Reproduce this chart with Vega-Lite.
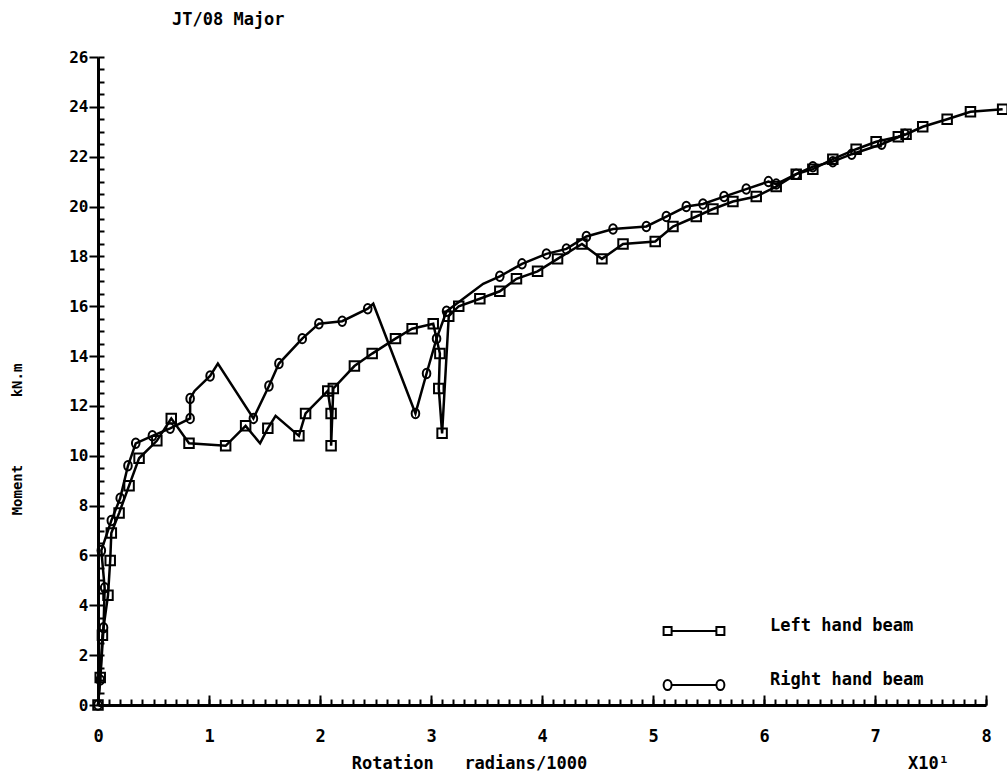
{
  "$schema": "https://vega.github.io/schema/vega-lite/v6.json",
  "autosize": "none",
  "width": 888,
  "height": 648,
  "padding": {"left": 98, "top": 57, "right": 21, "bottom": 73},
  "background": "white",
  "config": {"font": "DejaVu Sans Mono", "view": {"stroke": null}},
  "title": {"text": "JT/08 Major", "anchor": "start", "frame": "group", "dx": 74, "offset": 20, "fontSize": 17, "fontWeight": "bold", "font": "DejaVu Sans Mono", "color": "black"},
  "data": {"values": [
    {"b":"Left hand beam","i":1,"x":0,"y":0,"m":1},
    {"b":"Left hand beam","i":2,"x":0.02,"y":1.1,"m":1},
    {"b":"Left hand beam","i":3,"x":0.04,"y":2.8,"m":1},
    {"b":"Left hand beam","i":4,"x":0.09,"y":4.4,"m":1},
    {"b":"Left hand beam","i":5,"x":0.11,"y":5.8,"m":1},
    {"b":"Left hand beam","i":6,"x":0.12,"y":6.9,"m":1},
    {"b":"Left hand beam","i":7,"x":0.19,"y":7.7,"m":1},
    {"b":"Left hand beam","i":8,"x":0.28,"y":8.8,"m":1},
    {"b":"Left hand beam","i":9,"x":0.37,"y":9.9,"m":1},
    {"b":"Left hand beam","i":10,"x":0.53,"y":10.6,"m":1},
    {"b":"Left hand beam","i":11,"x":0.66,"y":11.5,"m":1},
    {"b":"Left hand beam","i":12,"x":0.82,"y":10.5,"m":1},
    {"b":"Left hand beam","i":13,"x":1.15,"y":10.4,"m":1},
    {"b":"Left hand beam","i":14,"x":1.33,"y":11.2,"m":1},
    {"b":"Left hand beam","i":15,"x":1.46,"y":10.5,"m":0},
    {"b":"Left hand beam","i":16,"x":1.53,"y":11.1,"m":1},
    {"b":"Left hand beam","i":17,"x":1.60,"y":11.6,"m":0},
    {"b":"Left hand beam","i":18,"x":1.81,"y":10.8,"m":1},
    {"b":"Left hand beam","i":19,"x":1.87,"y":11.7,"m":1},
    {"b":"Left hand beam","i":20,"x":2.07,"y":12.6,"m":1},
    {"b":"Left hand beam","i":21,"x":2.10,"y":11.7,"m":1},
    {"b":"Left hand beam","i":22,"x":2.10,"y":10.4,"m":1},
    {"b":"Left hand beam","i":23,"x":2.12,"y":12.7,"m":1},
    {"b":"Left hand beam","i":24,"x":2.31,"y":13.6,"m":1},
    {"b":"Left hand beam","i":25,"x":2.47,"y":14.1,"m":1},
    {"b":"Left hand beam","i":26,"x":2.68,"y":14.7,"m":1},
    {"b":"Left hand beam","i":27,"x":2.83,"y":15.1,"m":1},
    {"b":"Left hand beam","i":28,"x":3.02,"y":15.3,"m":1},
    {"b":"Left hand beam","i":29,"x":3.08,"y":14.1,"m":1},
    {"b":"Left hand beam","i":30,"x":3.07,"y":12.7,"m":1},
    {"b":"Left hand beam","i":31,"x":3.10,"y":10.9,"m":1},
    {"b":"Left hand beam","i":32,"x":3.16,"y":15.6,"m":1},
    {"b":"Left hand beam","i":33,"x":3.25,"y":16.0,"m":1},
    {"b":"Left hand beam","i":34,"x":3.44,"y":16.3,"m":1},
    {"b":"Left hand beam","i":35,"x":3.62,"y":16.6,"m":1},
    {"b":"Left hand beam","i":36,"x":3.77,"y":17.1,"m":1},
    {"b":"Left hand beam","i":37,"x":3.96,"y":17.4,"m":1},
    {"b":"Left hand beam","i":38,"x":4.14,"y":17.9,"m":1},
    {"b":"Left hand beam","i":39,"x":4.36,"y":18.5,"m":1},
    {"b":"Left hand beam","i":40,"x":4.54,"y":17.9,"m":1},
    {"b":"Left hand beam","i":41,"x":4.73,"y":18.5,"m":1},
    {"b":"Left hand beam","i":42,"x":5.02,"y":18.6,"m":1},
    {"b":"Left hand beam","i":43,"x":5.18,"y":19.2,"m":1},
    {"b":"Left hand beam","i":44,"x":5.39,"y":19.6,"m":1},
    {"b":"Left hand beam","i":45,"x":5.54,"y":19.9,"m":1},
    {"b":"Left hand beam","i":46,"x":5.72,"y":20.2,"m":1},
    {"b":"Left hand beam","i":47,"x":5.93,"y":20.4,"m":1},
    {"b":"Left hand beam","i":48,"x":6.11,"y":20.8,"m":1},
    {"b":"Left hand beam","i":49,"x":6.29,"y":21.3,"m":1},
    {"b":"Left hand beam","i":50,"x":6.44,"y":21.5,"m":1},
    {"b":"Left hand beam","i":51,"x":6.62,"y":21.9,"m":1},
    {"b":"Left hand beam","i":52,"x":6.83,"y":22.3,"m":1},
    {"b":"Left hand beam","i":53,"x":7.01,"y":22.6,"m":1},
    {"b":"Left hand beam","i":54,"x":7.21,"y":22.8,"m":1},
    {"b":"Left hand beam","i":55,"x":7.28,"y":22.9,"m":1},
    {"b":"Left hand beam","i":56,"x":7.43,"y":23.2,"m":1},
    {"b":"Left hand beam","i":57,"x":7.65,"y":23.5,"m":1},
    {"b":"Left hand beam","i":58,"x":7.86,"y":23.8,"m":1},
    {"b":"Left hand beam","i":59,"x":8.15,"y":23.9,"m":1},
    {"b":"Right hand beam","i":1,"x":0,"y":0,"m":1},
    {"b":"Right hand beam","i":2,"x":0.02,"y":1.0,"m":1},
    {"b":"Right hand beam","i":3,"x":0.05,"y":3.1,"m":1},
    {"b":"Right hand beam","i":4,"x":0.06,"y":4.7,"m":1},
    {"b":"Right hand beam","i":5,"x":0.03,"y":6.2,"m":1},
    {"b":"Right hand beam","i":6,"x":0.12,"y":7.4,"m":1},
    {"b":"Right hand beam","i":7,"x":0.20,"y":8.3,"m":1},
    {"b":"Right hand beam","i":8,"x":0.27,"y":9.6,"m":1},
    {"b":"Right hand beam","i":9,"x":0.34,"y":10.5,"m":1},
    {"b":"Right hand beam","i":10,"x":0.49,"y":10.8,"m":1},
    {"b":"Right hand beam","i":11,"x":0.65,"y":11.1,"m":1},
    {"b":"Right hand beam","i":12,"x":0.83,"y":11.5,"m":1},
    {"b":"Right hand beam","i":13,"x":0.83,"y":12.3,"m":1},
    {"b":"Right hand beam","i":14,"x":0.87,"y":12.6,"m":0},
    {"b":"Right hand beam","i":15,"x":1.01,"y":13.2,"m":1},
    {"b":"Right hand beam","i":16,"x":1.08,"y":13.7,"m":0},
    {"b":"Right hand beam","i":17,"x":1.40,"y":11.5,"m":1},
    {"b":"Right hand beam","i":18,"x":1.54,"y":12.8,"m":1},
    {"b":"Right hand beam","i":19,"x":1.63,"y":13.7,"m":1},
    {"b":"Right hand beam","i":20,"x":1.84,"y":14.7,"m":1},
    {"b":"Right hand beam","i":21,"x":1.99,"y":15.3,"m":1},
    {"b":"Right hand beam","i":22,"x":2.20,"y":15.4,"m":1},
    {"b":"Right hand beam","i":23,"x":2.43,"y":15.9,"m":1},
    {"b":"Right hand beam","i":24,"x":2.48,"y":16.1,"m":0},
    {"b":"Right hand beam","i":25,"x":2.86,"y":11.7,"m":1},
    {"b":"Right hand beam","i":26,"x":2.96,"y":13.3,"m":1},
    {"b":"Right hand beam","i":27,"x":3.05,"y":14.7,"m":1},
    {"b":"Right hand beam","i":28,"x":3.14,"y":15.8,"m":1},
    {"b":"Right hand beam","i":29,"x":3.35,"y":16.5,"m":0},
    {"b":"Right hand beam","i":30,"x":3.47,"y":16.9,"m":0},
    {"b":"Right hand beam","i":31,"x":3.62,"y":17.2,"m":1},
    {"b":"Right hand beam","i":32,"x":3.82,"y":17.7,"m":1},
    {"b":"Right hand beam","i":33,"x":4.04,"y":18.1,"m":1},
    {"b":"Right hand beam","i":34,"x":4.22,"y":18.3,"m":1},
    {"b":"Right hand beam","i":35,"x":4.40,"y":18.8,"m":1},
    {"b":"Right hand beam","i":36,"x":4.64,"y":19.1,"m":1},
    {"b":"Right hand beam","i":37,"x":4.94,"y":19.2,"m":1},
    {"b":"Right hand beam","i":38,"x":5.12,"y":19.6,"m":1},
    {"b":"Right hand beam","i":39,"x":5.30,"y":20.0,"m":1},
    {"b":"Right hand beam","i":40,"x":5.45,"y":20.1,"m":1},
    {"b":"Right hand beam","i":41,"x":5.64,"y":20.4,"m":1},
    {"b":"Right hand beam","i":42,"x":5.84,"y":20.7,"m":1},
    {"b":"Right hand beam","i":43,"x":6.04,"y":21.0,"m":1},
    {"b":"Right hand beam","i":44,"x":6.11,"y":20.9,"m":1},
    {"b":"Right hand beam","i":45,"x":6.29,"y":21.3,"m":1},
    {"b":"Right hand beam","i":46,"x":6.44,"y":21.6,"m":1},
    {"b":"Right hand beam","i":47,"x":6.62,"y":21.8,"m":1},
    {"b":"Right hand beam","i":48,"x":6.79,"y":22.1,"m":1},
    {"b":"Right hand beam","i":49,"x":7.06,"y":22.5,"m":1},
    {"b":"Right hand beam","i":50,"x":7.27,"y":22.9,"m":1}
  ]},
  "resolve": {"axis": {"x": "independent", "y": "independent"}, "scale": {"shape": "independent"}, "legend": {"shape": "independent"}},
  "layer": [
    {
      "mark": {"type": "line", "color": "black", "strokeWidth": 2.5},
      "encoding": {
        "x": {"field": "x", "type": "quantitative", "scale": {"domain": [0, 8], "nice": false, "zero": false},
          "axis": {"orient": "bottom", "values": [0,1,2,3,4,5,6,7,8], "tickSize": -10, "tickWidth": 2, "tickColor": "black",
            "domainColor": "black", "domainWidth": 3, "grid": false, "labelFontSize": 17, "labelFontWeight": "bold", "labelColor": "black",
            "labelPadding": 33, "labelFlush": false,
            "title": "Rotation\u00a0\u00a0\u00a0radians/1000", "titleFontSize": 17, "titleFontWeight": "bold", "titleColor": "black",
            "titleX": 371, "titleY": 63, "titleBaseline": "alphabetic", "titleAlign": "center"}},
        "y": {"field": "y", "type": "quantitative", "scale": {"domain": [0, 26], "nice": false, "zero": false},
          "axis": {"orient": "left", "values": [0,2,4,6,8,10,12,14,16,18,20,22,24,26], "tickSize": 9, "tickWidth": 2, "tickColor": "black",
            "domainColor": "black", "domainWidth": 3, "grid": false, "labelFontSize": 16, "labelFontWeight": "bold", "labelColor": "black",
            "labelPadding": 1, "labelFlush": false,
            "title": "Moment\u00a0\u00a0\u00a0\u00a0\u00a0\u00a0\u00a0\u00a0kN.m", "titleFontSize": 14, "titleFontWeight": "bold", "titleColor": "black",
            "titleX": -81, "titleY": 382, "titleAngle": -90, "titleAlign": "center", "titleBaseline": "middle"}},
        "detail": {"field": "b"},
        "order": {"field": "i", "type": "quantitative"}
      }
    },
    {
      "transform": [{"filter": "datum.m == 1"}],
      "mark": {"type": "point", "filled": false, "stroke": "black", "strokeWidth": 2, "size": 90, "opacity": 1},
      "encoding": {
        "x": {"field": "x", "type": "quantitative",
          "axis": {"orient": "bottom", "values": [0,0.1,0.2,0.3,0.4,0.5,0.6,0.7,0.8,0.9,1,1.1,1.2,1.3,1.4,1.5,1.6,1.7,1.8,1.9,2,2.1,2.2,2.3,2.4,2.5,2.6,2.7,2.8,2.9,3,3.1,3.2,3.3,3.4,3.5,3.6,3.7,3.8,3.9,4,4.1,4.2,4.3,4.4,4.5,4.6,4.7,4.8,4.9,5,5.1,5.2,5.3,5.4,5.5,5.6,5.7,5.8,5.9,6,6.1,6.2,6.3,6.4,6.5,6.6,6.7,6.8,6.9,7,7.1,7.2,7.3,7.4,7.5,7.6,7.7,7.8,7.9,8],
            "tickSize": -6, "tickWidth": 2, "tickColor": "black", "domain": false, "labels": false, "grid": false,
            "title": "X10¹", "titleFontSize": 17, "titleFontWeight": "bold", "titleColor": "black",
            "titleX": 830, "titleY": 63, "titleBaseline": "alphabetic", "titleAlign": "center"}},
        "y": {"field": "y", "type": "quantitative",
          "axis": {"orient": "left", "values": [0,0.5,1,1.5,2,2.5,3,3.5,4,4.5,5,5.5,6,6.5,7,7.5,8,8.5,9,9.5,10,10.5,11,11.5,12,12.5,13,13.5,14,14.5,15,15.5,16,16.5,17,17.5,18,18.5,19,19.5,20,20.5,21,21.5,22,22.5,23,23.5,24,24.5,25,25.5,26],
            "tickSize": -6, "tickWidth": 2, "tickColor": "black", "domain": false, "labels": false, "grid": false, "title": null}},
        "shape": {"field": "b", "type": "nominal",
          "scale": {"domain": ["Left hand beam", "Right hand beam"], "range": ["square", "M0.8,0A0.8,1 0 1,0 -0.8,0A0.8,1 0 1,0 0.8,0Z"]},
          "legend": null}
      }
    },
    {
      "transform": [{"filter": "false"}],
      "mark": {"type": "point", "filled": false, "stroke": "black", "strokeWidth": 2, "opacity": 1},
      "encoding": {
        "x": {"field": "x", "type": "quantitative", "axis": null},
        "y": {"field": "y", "type": "quantitative", "axis": null},
        "shape": {"field": "b", "type": "nominal",
          "scale": {"domain": ["Left hand beam", "Right hand beam"], "range": [
            "M-1.12,0H1.12M-1.52,-0.2H-1.12V0.2H-1.52ZM1.12,-0.2H1.52V0.2H1.12Z",
            "M-1.12,0H1.12M-1.12,0A0.2,0.25 0 1,0 -1.52,0A0.2,0.25 0 1,0 -1.12,0ZM1.52,0A0.2,0.25 0 1,0 1.12,0A0.2,0.25 0 1,0 1.52,0Z"]},
          "legend": {"orient": "none", "legendX": 575, "legendY": 553, "title": null, "padding": 0,
            "symbolSize": 1600, "rowPadding": 25, "labelOffset": 55,
            "labelFontSize": 17, "labelFontWeight": "bold", "labelColor": "black", "labelFont": "DejaVu Sans Mono",
            "labelBaseline": "alphabetic",
            "symbolStrokeWidth": 2, "symbolStrokeColor": "black", "symbolFillColor": "transparent", "symbolOpacity": 1}}
      }
    }
  ]
}
